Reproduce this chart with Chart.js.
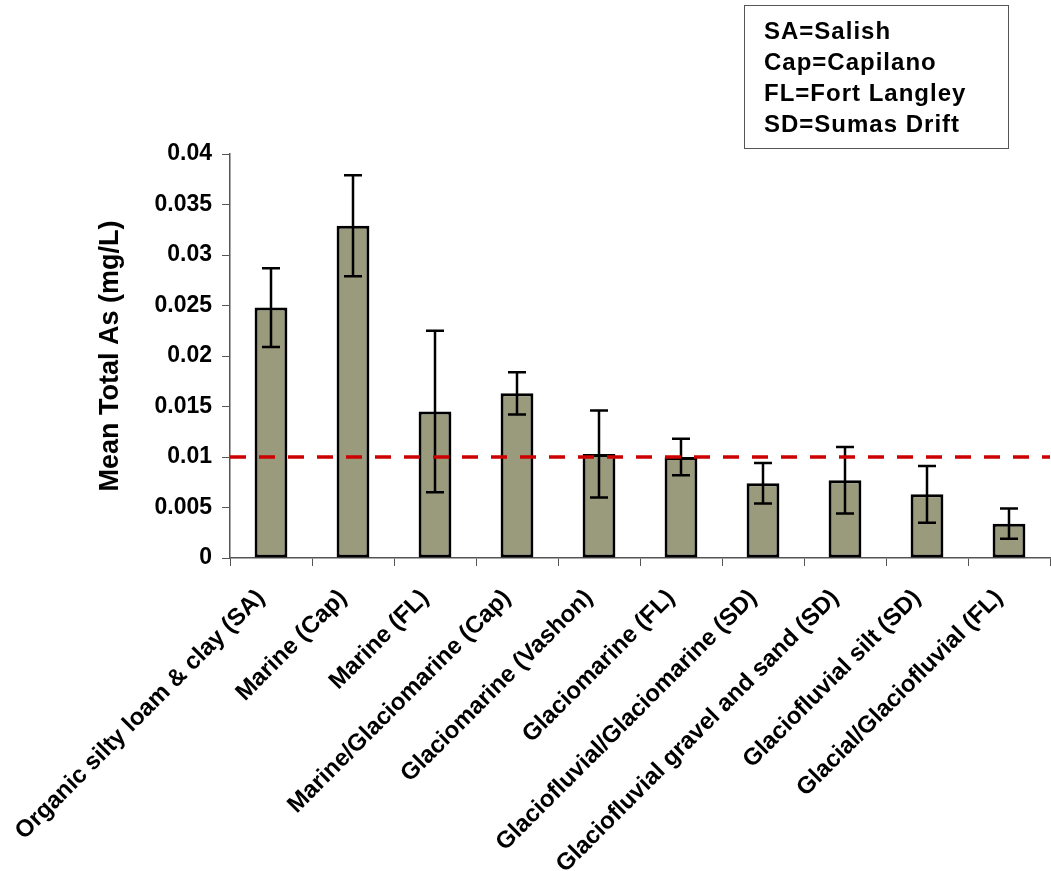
<!DOCTYPE html>
<html>
<head>
<meta charset="utf-8">
<script src="https://cdn.jsdelivr.net/npm/chart.js@4.4.1/dist/chart.umd.min.js"></script>
<style>
  html, body { margin: 0; padding: 0; background: #fff; }
  #wrap { width: 1051px; height: 871px; }
</style>
</head>
<body>
<div id="wrap"><canvas id="asChart" width="1051" height="871"></canvas></div>
<script>
// soil units, mean total As and +/- error
const soilUnits = [
  "Organic silty loam & clay (SA)",
  "Marine (Cap)",
  "Marine (FL)",
  "Marine/Glaciomarine (Cap)",
  "Glaciomarine (Vashon)",
  "Glaciomarine (FL)",
  "Glaciofluvial/Glaciomarine (SD)",
  "Glaciofluvial gravel and sand (SD)",
  "Glaciofluvial silt (SD)",
  "Glacial/Glaciofluvial (FL)"
];
const meanAs = [0.0248, 0.0329, 0.0145, 0.0163, 0.0103, 0.0100, 0.0074, 0.0077, 0.0063, 0.0034];
const errAs = [0.0039, 0.0050, 0.0080, 0.0021, 0.0043, 0.0018, 0.0020, 0.0033, 0.0028, 0.0015];
const guideline = 0.01;
const unitKey = ["SA=Salish", "Cap=Capilano", "FL=Fort Langley", "SD=Sumas Drift"];

const FONT = '"Liberation Sans", Arial, Helvetica, sans-serif';

// whiskers on each bar
const errorBars = {
  id: "errorBars",
  afterDatasetsDraw(chart) {
    const ctx = chart.ctx;
    const y = chart.scales.y;
    const meta = chart.getDatasetMeta(0);
    ctx.save();
    ctx.strokeStyle = "#000";
    ctx.lineWidth = 2.5;
    meta.data.forEach((bar, i) => {
      const hi = y.getPixelForValue(meanAs[i] + errAs[i]);
      const lo = y.getPixelForValue(meanAs[i] - errAs[i]);
      const x = bar.x;
      ctx.beginPath();
      ctx.moveTo(x, hi); ctx.lineTo(x, lo);
      ctx.moveTo(x - 9, hi); ctx.lineTo(x + 9, hi);
      ctx.moveTo(x - 9, lo); ctx.lineTo(x + 9, lo);
      ctx.stroke();
    });
    ctx.restore();
  }
};

// dashed guideline across the plot
const guideLine = {
  id: "guideLine",
  afterDatasetsDraw(chart) {
    const { ctx, chartArea } = chart;
    const py = chart.scales.y.getPixelForValue(guideline);
    ctx.save();
    ctx.strokeStyle = "#cc0000";
    ctx.lineWidth = 3.5;
    ctx.setLineDash([16, 13]);
    ctx.beginPath();
    ctx.moveTo(chartArea.left, py);
    ctx.lineTo(chartArea.right, py);
    ctx.stroke();
    ctx.restore();
  }
};

// abbreviation key box, top right
const keyBox = {
  id: "keyBox",
  afterDraw(chart) {
    const ctx = chart.ctx;
    ctx.save();
    ctx.strokeStyle = "#555";
    ctx.lineWidth = 1;
    ctx.strokeRect(744.5, 5.5, 264, 143);
    ctx.fillStyle = "#000";
    ctx.font = "bold 24px " + FONT;
    ctx.letterSpacing = "1px";
    ctx.textBaseline = "middle";
    unitKey.forEach((t, i) => ctx.fillText(t, 764, 32 + i * 31));
    ctx.restore();
  }
};

new Chart(document.getElementById("asChart"), {
  type: "bar",
  data: {
    labels: soilUnits,
    datasets: [{
      data: meanAs,
      backgroundColor: "#9a9a7c",
      borderColor: "#000",
      borderWidth: 3,
      borderSkipped: false,
      categoryPercentage: 1,
      barPercentage: 0.4
    }]
  },
  options: {
    responsive: false,
    animation: false,
    layout: { padding: { top: 154, right: 1, left: 0, bottom: 0 } },
    plugins: {
      legend: { display: false },
      tooltip: { enabled: false }
    },
    scales: {
      x: {
        afterFit(scale) { scale.height = 313; },
        grid: { drawOnChartArea: false, drawTicks: true, tickLength: 8, color: "#555", offset: true },
        border: { color: "#555", width: 1.5 },
        ticks: {
          color: "#000",
          minRotation: 45,
          maxRotation: 45,
          autoSkip: false,
          padding: 18,
          labelOffset: -10,
          font: { family: FONT, size: 24, weight: "bold" }
        }
      },
      y: {
        min: 0,
        max: 0.04,
        afterFit(scale) { scale.width = 230; },
        grid: { drawOnChartArea: false, drawTicks: true, tickLength: 8, color: "#555" },
        border: { color: "#555", width: 1.5 },
        ticks: {
          stepSize: 0.005,
          color: "#000",
          padding: 10,
          font: { family: FONT, size: 23, weight: "bold" },
          callback: (v) => String(Number(v.toFixed(3)))
        },
        title: {
          display: true,
          text: "Mean Total As (mg/L)",
          color: "#000",
          padding: { top: 94, bottom: 0 },
          font: { family: FONT, size: 27, weight: "bold" }
        }
      }
    }
  },
  plugins: [errorBars, guideLine, keyBox]
});
</script>
</body>
</html>
